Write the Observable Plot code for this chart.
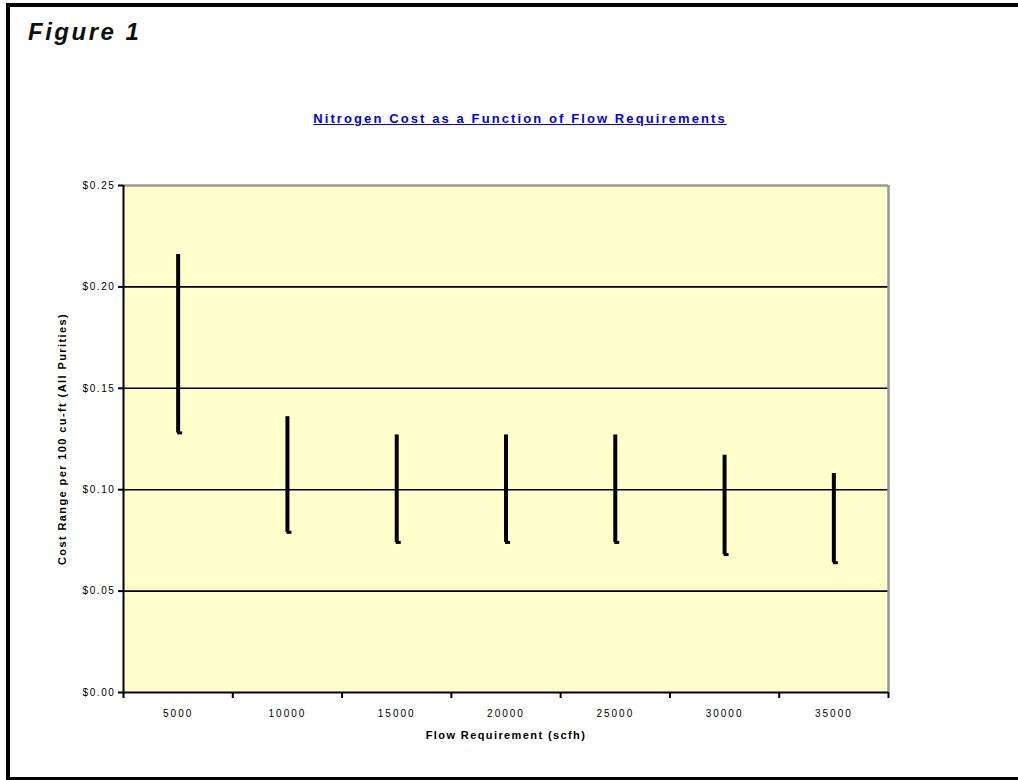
<!DOCTYPE html>
<html>
<head>
<meta charset="utf-8">
<script src="https://cdn.jsdelivr.net/npm/d3@7"></script>
<script src="https://cdn.jsdelivr.net/npm/@observablehq/plot@0.6"></script>
<style>
  html, body { margin: 0; padding: 0; width: 1018px; height: 780px; overflow: hidden; background: #fff; font-family: "Liberation Sans", Arial, sans-serif; }
  #page { position: relative; width: 1018px; height: 780px; overflow: hidden; }
  .bar { position: absolute; background: #000; }
  #bleft { left: 6px; top: 3px; width: 4px; height: 778px; }
  #btop { left: 6px; top: 3px; width: 1012px; height: 4px; }
  #bbottom { left: 6px; top: 777px; width: 1012px; height: 4px; }
  #fig { position: absolute; left: 28px; top: 18px; font-size: 24px; font-weight: bold; font-style: italic; letter-spacing: 2.5px; color: #111; }
  #title { position: absolute; left: 0; width: 1040px; top: 111px; text-align: center; font-size: 13px; font-weight: bold; color: #0000ee; text-decoration: underline; letter-spacing: 2.1px; }
  #chart { position: absolute; left: 0; top: 0; }
</style>
</head>
<body>
<div id="page">
  <div class="bar" id="bleft"></div>
  <div class="bar" id="btop"></div>
  <div class="bar" id="bbottom"></div>
  <div id="chart"></div>
  <div id="fig">Figure 1</div>
  <div id="title">Nitrogen Cost as a Function of Flow Requirements</div>
</div>
<script>
const flows = [5000, 10000, 15000, 20000, 25000, 30000, 35000];
const highs = [0.216, 0.136, 0.127, 0.127, 0.127, 0.117, 0.108];
const lows  = [0.128, 0.079, 0.074, 0.074, 0.074, 0.068, 0.064];
const yTicks = [0, 0.05, 0.10, 0.15, 0.20, 0.25];
const gridValues = [0.05, 0.10, 0.15, 0.20];
const xBoundaries = [2500, 7500, 12500, 17500, 22500, 27500, 32500, 37500];
const xLabel = "Flow Requirement (scfh)";
const yLabel = "Cost Range per 100 cu-ft (All Purities)";

const data = flows.map((f, i) => ({flow: f, high: highs[i], low: lows[i]}));

const closeTick = {
  draw(context) {
    context.moveTo(-1, 0);
    context.lineTo(4, 0);
  }
};

const chart = Plot.plot({
  width: 1018,
  height: 780,
  marginLeft: 123,
  marginRight: 130,
  marginTop: 185,
  marginBottom: 88,
  style: {fontFamily: "'Liberation Sans', Arial, sans-serif", fontSize: "10px", color: "#000", background: "transparent"},
  x: {domain: [2500, 37500], axis: null},
  y: {domain: [0, 0.25], axis: null},
  marks: [
    Plot.frame({fill: "#ffffcc", stroke: null}),
    Plot.ruleY(gridValues, {stroke: "#000", strokeWidth: 1.6}),
    Plot.ruleY([0.25], {stroke: "#999", strokeWidth: 2.5}),
    Plot.ruleX([37500], {stroke: "#999", strokeWidth: 2.5}),
    Plot.ruleX(data, {x: "flow", y1: "low", y2: "high", stroke: "#000", strokeWidth: 4, strokeLinecap: "butt"}),
    Plot.dot(data, {x: "flow", y: "low", symbol: closeTick, stroke: "#000", strokeWidth: 3, r: 3}),
    Plot.ruleX([2500], {stroke: "#000", strokeWidth: 2}),
    Plot.ruleY([0], {stroke: "#000", strokeWidth: 2}),
    Plot.axisY({ticks: yTicks, tickSize: 5, tickPadding: 3, tickFormat: d => "$" + d.toFixed(2), label: null, fontSize: 10, stroke: "#000", strokeWidth: 2}),
    Plot.axisX({ticks: xBoundaries, tickSize: 6, tickFormat: () => "", label: null, stroke: "#000", strokeWidth: 2}),
    Plot.axisX({ticks: flows, tickSize: 0, tickPadding: 17, tickFormat: d => String(d), label: null, fontSize: 10}),
    Plot.text([xLabel], {frameAnchor: "bottom", dy: 46, text: d => d, fontSize: 11, fontWeight: "bold"}),
    Plot.text([yLabel], {frameAnchor: "left", dx: -61, rotate: -90, textAnchor: "middle", text: d => d, fontSize: 11, fontWeight: "bold"})
  ]
});
d3.select(chart).selectAll("text").each(function() {
  const t = this.textContent;
  let ls = null;
  if (t.startsWith("$")) ls = "1.6px";
  else if (/^\d+$/.test(t)) ls = "2px";
  else if (t === xLabel || t === yLabel) ls = "1.4px";
  if (ls) this.style.letterSpacing = ls;
});
document.getElementById("chart").appendChild(chart);
</script>
</body>
</html>
